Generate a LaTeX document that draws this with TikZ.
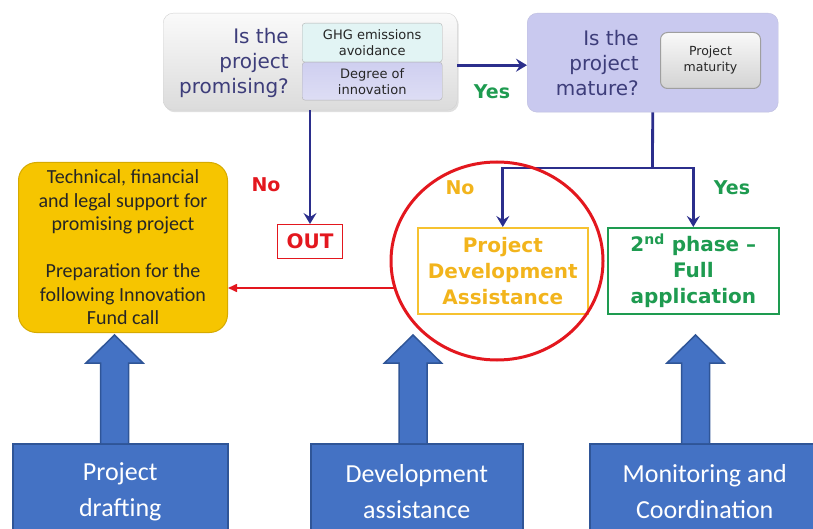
\documentclass[tikz,border=0pt]{standalone}
\usepackage{fontspec}
\setmainfont{DejaVu Sans}
\newfontfamily\calibrifont{Carlito}
\usetikzlibrary{arrows.meta,calc,shadows}
\definecolor{flowblue}{HTML}{2B2E8C}
\definecolor{qtextc}{HTML}{3D3D7A}
\definecolor{okgreen}{HTML}{1E9B50}
\definecolor{pdaorange}{HTML}{F2B41C}
\definecolor{pdaborder}{HTML}{F6C230}
\definecolor{ringred}{HTML}{E3171E}
\definecolor{yelfill}{HTML}{F6C500}
\definecolor{yelborder}{HTML}{D6AA00}
\definecolor{lavfill}{HTML}{C9C9EF}
\definecolor{ghgfill}{HTML}{E2F4F4}
\definecolor{degfill}{HTML}{CFCFF0}
\definecolor{bluebox}{HTML}{4472C4}
\definecolor{blueborder}{HTML}{2F5597}
\tikzset{
  boxat/.style={anchor=north west, inner sep=0pt, align=center},
  qbox/.style={boxat, rounded corners=10pt, top color=gray!4, bottom color=gray!28, draw=gray!35,
    drop shadow={shadow xshift=1.5pt, shadow yshift=-2pt, opacity=0.25}},
  lavbox/.style={boxat, rounded corners=10pt, fill=lavfill, draw=lavfill!85!gray},
  qtext/.style={anchor=east, align=right, inner sep=0pt, text=qtextc, font=\fontsize{20}{25}\selectfont},
  smallbox/.style={boxat, rounded corners=3pt, draw=gray!60, text=black!85, font=\fontsize{13}{16}\selectfont},
  button/.style={boxat, rounded corners=7pt, top color=gray!5, bottom color=gray!35, draw=gray!75, line width=1pt, text=black!85, font=\fontsize{12.5}{16}\selectfont},
  flow/.style={draw=flowblue, line width=2.8pt, -{Stealth[length=11pt,width=13pt,inset=4pt]}},
  flowline/.style={draw=flowblue, line width=2.8pt},
  lbl/.style={inner sep=0pt, font=\bfseries\fontsize{19}{22}\selectfont},
  outcome/.style={boxat, line width=1.6pt, font=\bfseries\fontsize{20}{26}\selectfont},
  bluestep/.style={boxat, fill=bluebox, draw=blueborder, line width=1.5pt, text=white, font=\calibrifont\fontsize{26}{36}\selectfont},
  blockarr/.style={fill=bluebox, draw=blueborder, line width=1.5pt, line join=miter},
}
\begin{document}
\begin{tikzpicture}[x=1pt,y=-1pt]
\useasboundingbox (0,0) rectangle (813,529);
\clip (0,0) rectangle (813,529);
% top left question
\node[qbox, minimum width=294pt, minimum height=97pt] (q1) at (163,13) {};
\node[qtext] (q1t) at (289,63) {Is the\\project\\promising?};
\node[smallbox, fill=ghgfill, minimum width=140pt, minimum height=39pt] (ghg) at (302,23) {GHG emissions\\avoidance};
\node[smallbox, top color=degfill, bottom color=degfill!70!white, minimum width=140pt, minimum height=38pt] (deg) at (302,62) {Degree of\\innovation};
% top right question
\node[lavbox, minimum width=251pt, minimum height=99pt] (q2) at (527,13) {};
\node[qtext] (q2t) at (639,63) {Is the\\project\\mature?};
\node[button, minimum width=100pt, minimum height=56pt] (mat) at (660,32) {Project\\maturity};
% outcomes
\node[outcome, draw=ringred, text=ringred, line width=1pt, minimum width=65pt, minimum height=34pt] (out) at (277,224) {OUT};
\node[outcome, draw=pdaborder, text=pdaorange, minimum width=170pt, minimum height=86pt] (pda) at (417,227) {Project\\Development\\Assistance};
\node[outcome, draw=okgreen, text=okgreen, minimum width=171pt, minimum height=86pt] (ph2) at (607,227) {2\textsuperscript{nd} phase –\\Full\\application};
% yellow box
\node[boxat, rounded corners=18pt, fill=yelfill, draw=yelborder, line width=1pt, minimum width=209pt, minimum height=170pt, text=black!85, font=\calibrifont\fontsize{20}{23.5}\selectfont] (yel) at (18,162) {Technical, financial\\and legal support for\\promising project\\[23.5pt]Preparation for the\\following Innovation\\Fund call};
% connectors
\draw[flow] ([yshift=-3.5pt]q1.east) -- ([yshift=-3.5pt]q1.east -| q2.west);
\node[lbl, text=okgreen] (yes1) at (492,92) {Yes};
\draw[flow] (q1.south -| out.north) -- (out.north);
\node[lbl, text=ringred] (no1) at (266,185) {No};
\coordinate (split) at (652.5,168);
\draw[flowline] (q2.south) -- (split);
\draw[flow] (split) -| (pda.north);
\draw[flow] (split) -| (ph2.north);
\node[lbl, text=pdaorange] (no2) at (460,188) {No};
\node[lbl, text=okgreen] (yes2) at (732,188) {Yes};
% red ring and arrow
\coordinate (rc) at (497,261);
\draw[draw=ringred, line width=3pt] (rc) ellipse [x radius=106pt, y radius=99pt];
\coordinate (rs) at (394,288);
\draw[draw=ringred, line width=1.6pt, -{Triangle[length=9pt,width=8pt]}] (rs) -- (rs -| yel.east);
% bottom boxes
\node[bluestep, minimum width=215pt, minimum height=96pt] (b1) at (12,443) {Project\\drafting};
\node[bluestep, minimum width=212pt, minimum height=96pt] (b2) at (310,443) {Development\\assistance};
\node[bluestep, minimum width=230pt, minimum height=96pt] (b3) at (589,443) {Monitoring and\\Coordination};
% block arrows
\draw[blockarr] (100.5,443) -- (100.5,363) -- (86,363) -- (114.5,335) -- (143,363) -- (128.5,363) -- (128.5,443);
\draw[blockarr] (399,443) -- (399,363) -- (384.5,363) -- (413,335) -- (441.5,363) -- (427,363) -- (427,443);
\draw[blockarr] (681.5,443) -- (681.5,363) -- (667,363) -- (695.5,335) -- (724,363) -- (709.5,363) -- (709.5,443);
\end{tikzpicture}
\end{document}
